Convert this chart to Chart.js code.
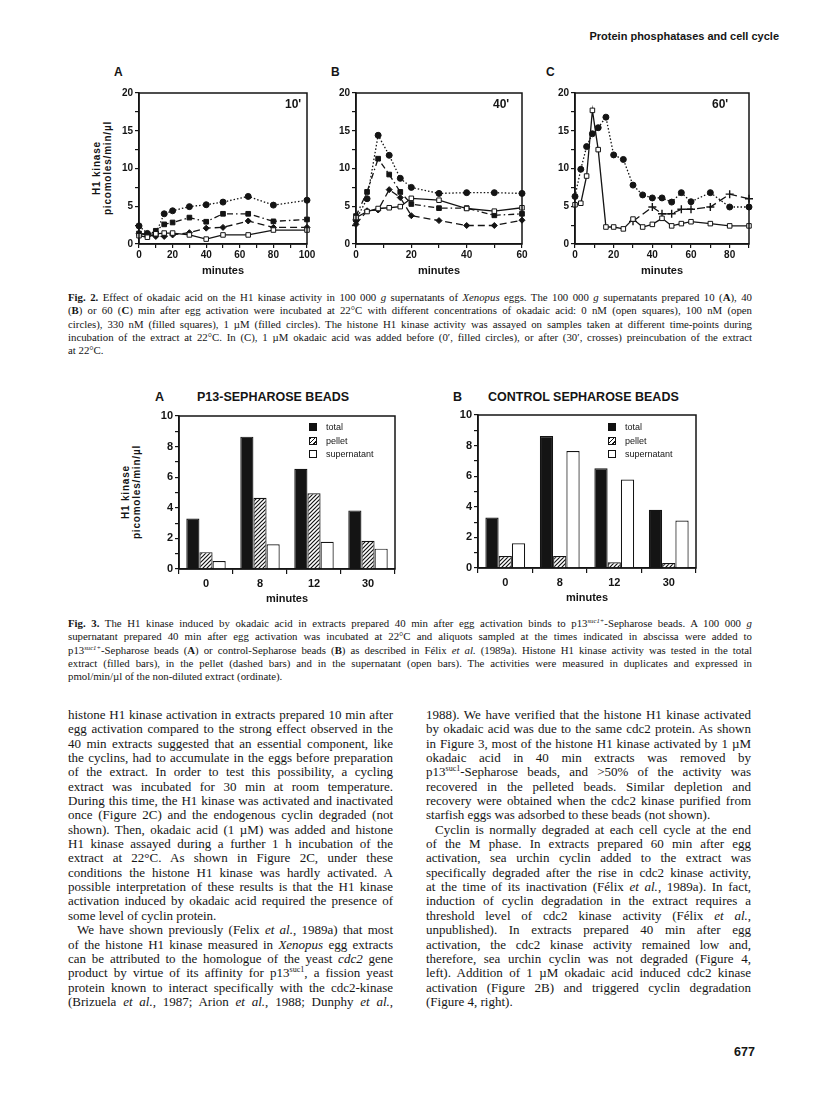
<!DOCTYPE html>
<html>
<head>
<meta charset="utf-8">
<script src="https://cdn.jsdelivr.net/npm/chart.js@4.4.1/dist/chart.umd.min.js"></script>
<style>
  html, body { margin: 0; padding: 0; background: #fff; }
  #page { position: relative; width: 816px; height: 1093px; overflow: hidden; color: #151515;
    font-family: "Liberation Serif", "Times New Roman", serif; }
  .sans { position: absolute; font-family: "Liberation Sans", Arial, sans-serif; font-weight: bold; white-space: nowrap; }
  canvas { position: absolute; }
  .cap { position: absolute; left: 68px; width: 684px; font-size: 10.8px; line-height: 13.3px; }
  .col { position: absolute; top: 708px; width: 325px; font-size: 13px; line-height: 14.35px; }
  .ln { text-align: justify; text-align-last: justify; white-space: nowrap; }
  .ln.end { text-align-last: left; }
  .ind { text-indent: 9px; }
  .rot { position: absolute; transform: rotate(-90deg); text-align: center; white-space: nowrap;
    font-family: "Liberation Sans", Arial, sans-serif; font-weight: bold; font-size: 10px; line-height: 11px; letter-spacing: 0.8px; }
  sup { font-size: 0.62em; line-height: 0; vertical-align: 0.62em; }
  .leg { position: absolute; font-family: "Liberation Sans", Arial, sans-serif; font-size: 9px; line-height: 13.5px; }
  .leg span.b { display: inline-block; width: 8px; height: 8px; border: 1px solid #111; box-sizing: border-box;
    vertical-align: -1px; margin-right: 9px; }
</style>
</head>
<body>
<div id="page">
  <div class="sans" style="right:37px; top:30px; font-size:11px;">Protein phosphatases and cell cycle</div>

  <!-- Fig. 2 -->
  <div class="sans" style="left:114px; top:65px; font-size:12px;">A</div>
  <div class="sans" style="left:331px; top:65px; font-size:12px;">B</div>
  <div class="sans" style="left:546px; top:65px; font-size:12px;">C</div>
  <div class="rot" style="left:42px; top:157px; width:120px; height:22px;">H1 kinase<br>picomoles/min/µl</div>
  <canvas id="f2a" width="205" height="193" style="left:112px; top:85px;"></canvas>
  <canvas id="f2b" width="203" height="193" style="left:329px; top:85px;"></canvas>
  <canvas id="f2c" width="211" height="193" style="left:548px; top:85px;"></canvas>
  <div class="sans" style="left:285px; top:97px; font-size:12px;">10'</div>
  <div class="sans" style="left:493px; top:97px; font-size:12px;">40'</div>
  <div class="sans" style="left:712px; top:97px; font-size:12px;">60'</div>

  <div class="cap" style="top:291px;">
    <div class="ln"><b>Fig. 2.</b> Effect of okadaic acid on the H1 kinase activity in 100 000 <i>g</i> supernatants of <i>Xenopus</i> eggs. The 100 000 <i>g</i> supernatants prepared 10 (<b>A</b>), 40</div>
    <div class="ln">(<b>B</b>) or 60 (<b>C</b>) min after egg activation were incubated at 22°C with different concentrations of okadaic acid: 0 nM (open squares), 100 nM (open</div>
    <div class="ln">circles), 330 nM (filled squares), 1 µM (filled circles). The histone H1 kinase activity was assayed on samples taken at different time-points during</div>
    <div class="ln">incubation of the extract at 22°C. In (C), 1 µM okadaic acid was added before (0′, filled circles), or after (30′, crosses) preincubation of the extract</div>
    <div class="ln end">at 22°C.</div>
  </div>

  <!-- Fig. 3 -->
  <div class="sans" style="left:155px; top:390px; font-size:12.5px;">A</div>
  <div class="sans" style="left:197px; top:390px; font-size:12.5px;">P13-SEPHAROSE BEADS</div>
  <div class="sans" style="left:453px; top:390px; font-size:12.5px;">B</div>
  <div class="sans" style="left:488px; top:390px; font-size:12.5px;">CONTROL SEPHAROSE BEADS</div>
  <div class="rot" style="left:71px; top:481px; width:120px; height:22px;">H1 kinase<br>picomoles/min/µl</div>
  <canvas id="f3a" width="252" height="201" style="left:150px; top:405px;"></canvas>
  <canvas id="f3b" width="254" height="201" style="left:449px; top:404px;"></canvas>
  <div class="leg" style="left:309px; top:421px;">
    <div><span class="b" style="background:#111;"></span>total</div>
    <div><span class="b" style="background:repeating-linear-gradient(135deg,#111 0 1.2px,#fff 1.2px 3px);"></span>pellet</div>
    <div><span class="b" style="background:#fff;"></span>supernatant</div>
  </div>
  <div class="leg" style="left:608px; top:421px;">
    <div><span class="b" style="background:#111;"></span>total</div>
    <div><span class="b" style="background:repeating-linear-gradient(135deg,#111 0 1.2px,#fff 1.2px 3px);"></span>pellet</div>
    <div><span class="b" style="background:#fff;"></span>supernatant</div>
  </div>

  <div class="cap" style="top:617px;">
    <div class="ln"><b>Fig. 3.</b> The H1 kinase induced by okadaic acid in extracts prepared 40 min after egg activation binds to p13<sup><i>suc1+</i></sup>-Sepharose beads. A 100 000 <i>g</i></div>
    <div class="ln">supernatant prepared 40 min after egg activation was incubated at 22°C and aliquots sampled at the times indicated in abscissa were added to</div>
    <div class="ln">p13<sup><i>suc1+</i></sup>-Sepharose beads (<b>A</b>) or control-Sepharose beads (<b>B</b>) as described in Félix <i>et al.</i> (1989a). Histone H1 kinase activity was tested in the total</div>
    <div class="ln">extract (filled bars), in the pellet (dashed bars) and in the supernatant (open bars). The activities were measured in duplicates and expressed in</div>
    <div class="ln end">pmol/min/µl of the non-diluted extract (ordinate).</div>
  </div>

  <!-- body text -->
  <div class="col" style="left:68px;">
    <div class="ln">histone H1 kinase activation in extracts prepared 10 min after</div>
    <div class="ln">egg activation compared to the strong effect observed in the</div>
    <div class="ln">40 min extracts suggested that an essential component, like</div>
    <div class="ln">the cyclins, had to accumulate in the eggs before preparation</div>
    <div class="ln">of the extract. In order to test this possibility, a cycling</div>
    <div class="ln">extract was incubated for 30 min at room temperature.</div>
    <div class="ln">During this time, the H1 kinase was activated and inactivated</div>
    <div class="ln">once (Figure 2C) and the endogenous cyclin degraded (not</div>
    <div class="ln">shown). Then, okadaic acid (1 µM) was added and histone</div>
    <div class="ln">H1 kinase assayed during a further 1 h incubation of the</div>
    <div class="ln">extract at 22°C. As shown in Figure 2C, under these</div>
    <div class="ln">conditions the histone H1 kinase was hardly activated. A</div>
    <div class="ln">possible interpretation of these results is that the H1 kinase</div>
    <div class="ln">activation induced by okadaic acid required the presence of</div>
    <div class="ln end">some level of cyclin protein.</div>
    <div class="ln ind">We have shown previously (Felix <i>et al.</i>, 1989a) that most</div>
    <div class="ln">of the histone H1 kinase measured in <i>Xenopus</i> egg extracts</div>
    <div class="ln">can be attributed to the homologue of the yeast <i>cdc2</i> gene</div>
    <div class="ln">product by virtue of its affinity for p13<sup>suc1</sup>, a fission yeast</div>
    <div class="ln">protein known to interact specifically with the cdc2-kinase</div>
    <div class="ln">(Brizuela <i>et al.</i>, 1987; Arion <i>et al.</i>, 1988; Dunphy <i>et al.</i>,</div>
  </div>
  <div class="col" style="left:426px;">
    <div class="ln">1988). We have verified that the histone H1 kinase activated</div>
    <div class="ln">by okadaic acid was due to the same cdc2 protein. As shown</div>
    <div class="ln">in Figure 3, most of the histone H1 kinase activated by 1 µM</div>
    <div class="ln">okadaic acid in 40 min extracts was removed by</div>
    <div class="ln">p13<sup>suc1</sup>-Sepharose beads, and &gt;50% of the activity was</div>
    <div class="ln">recovered in the pelleted beads. Similar depletion and</div>
    <div class="ln">recovery were obtained when the cdc2 kinase purified from</div>
    <div class="ln end">starfish eggs was adsorbed to these beads (not shown).</div>
    <div class="ln ind">Cyclin is normally degraded at each cell cycle at the end</div>
    <div class="ln">of the M phase. In extracts prepared 60 min after egg</div>
    <div class="ln">activation, sea urchin cyclin added to the extract was</div>
    <div class="ln">specifically degraded after the rise in cdc2 kinase activity,</div>
    <div class="ln">at the time of its inactivation (Félix <i>et al.</i>, 1989a). In fact,</div>
    <div class="ln">induction of cyclin degradation in the extract requires a</div>
    <div class="ln">threshold level of cdc2 kinase activity (Félix <i>et al.</i>,</div>
    <div class="ln">unpublished). In extracts prepared 40 min after egg</div>
    <div class="ln">activation, the cdc2 kinase activity remained low and,</div>
    <div class="ln">therefore, sea urchin cyclin was not degraded (Figure 4,</div>
    <div class="ln">left). Addition of 1 µM okadaic acid induced cdc2 kinase</div>
    <div class="ln">activation (Figure 2B) and triggered cyclin degradation</div>
    <div class="ln end">(Figure 4, right).</div>
  </div>

  <div class="sans" style="left:734px; top:1045px; font-size:12.5px;">677</div>
</div>

<script>
// Fig. 2: H1 kinase (pmol/min/µl) vs incubation time; okadaic acid 0 / 100 / 330 nM / 1 µM.
// A: 10 min extract
const A_TIME = [0, 5, 10, 15, 20, 30, 40, 50, 65, 80, 100];
const A_0NM = [1.1, 0.9, 1.35, 1.45, 1.45, 1.2, 0.65, 1.2, 1.2, 1.85, 1.85];
const A_100NM = [1.35, 1.35, 1.0, 1.0, 1.2, 1.5, 2.1, 2.2, 3.05, 2.2, 2.2];
const A_330NM = [1.4, 1.2, 1.75, 2.6, 2.85, 3.5, 2.95, 4.0, 4.0, 3.0, 3.25];
const A_1UM = [2.4, 1.4, 1.4, 4.0, 4.4, 4.95, 5.2, 5.55, 6.3, 5.15, 5.8];
// B: 40 min extract
const B_TIME = [0, 4, 8, 12, 16, 20, 30, 40, 50, 60];
const B_0NM = [3.5, 4.3, 4.7, 4.8, 4.95, 6.05, 5.8, 4.7, 4.35, 4.8];
const B_100NM = [2.6, 4.4, 4.5, 7.2, 6.15, 3.75, 3.1, 2.45, 2.45, 3.15];
const B_330NM = [3.7, 6.9, 11.3, 9.2, 6.9, 5.3, 4.75, 4.75, 3.8, 4.0];
const B_1UM = [3.2, 6.0, 14.4, 11.75, 8.7, 7.5, 6.7, 6.8, 6.8, 6.7];
// C: 60 min extract; 1 µM added at 0' (circles) or after 30' (crosses)
const C_TIME = [0, 3, 6, 9, 12, 16, 20, 25, 30, 35, 40, 45, 50, 55, 60, 70, 80, 90];
const C_CTRL = [5.2, 5.4, 9.0, 17.7, 12.5, 2.25, 2.25, 2.0, 3.3, 2.25, 2.6, 3.4, 2.4, 2.7, 2.95, 2.7, 2.4, 2.4];
const C_OKA0 = [6.3, 9.9, 12.9, 14.6, 15.4, 16.8, 11.8, 11.2, 7.8, 6.5, 6.1, 6.1, 5.55, 6.8, 5.6, 6.8, 4.9, 4.9];
const C_TIME30 = [30, 40, 45, 50, 55, 60, 70, 80, 90];
const C_OKA30 = [3.0, 4.9, 4.0, 4.0, 4.6, 4.6, 4.9, 6.6, 6.0];

// Fig. 3: bead binding, sampled at these minutes
const BAR_MIN = ['0', '8', '12', '30'];
const P13_TOTAL = [3.3, 8.65, 6.55, 3.83];
const P13_PELLET = [1.1, 4.65, 4.95, 1.85];
const P13_SUP = [0.52, 1.62, 1.78, 1.33];
const CTRL_TOTAL = [3.3, 8.63, 6.52, 3.8];
const CTRL_PELLET = [0.78, 0.78, 0.38, 0.33];
const CTRL_SUP = [1.62, 7.65, 5.78, 3.1];

const INK = '#141414';
Chart.defaults.font.family = '"Liberation Sans", Arial, sans-serif';
Chart.defaults.color = INK;

// frame the whole plot area like the original figures
const boxPlugin = {
  id: 'box',
  afterDraw(c) {
    const a = c.chartArea, g = c.ctx;
    g.save();
    g.strokeStyle = INK; g.lineWidth = 1.5;
    g.strokeRect(a.left, a.top, a.right - a.left, a.bottom - a.top);
    g.restore();
  },
};

function pts(t, v) { return t.map((x, i) => ({ x, y: v[i] })); }

function series(t, v, kind) {
  const base = { data: pts(t, v), borderColor: INK, borderWidth: 1.3, tension: 0, clip: false,
    pointBorderColor: INK, pointBorderWidth: 1, pointRadius: 3 };
  if (kind === 'open') return { ...base, pointStyle: 'rect', pointBackgroundColor: '#fff', pointRadius: 3.2 };
  if (kind === 'diam') return { ...base, borderDash: [7, 4], pointStyle: 'rectRot', pointBackgroundColor: INK, pointRadius: 3 };
  if (kind === 'sq') return { ...base, borderDash: [6, 3, 1.5, 3], pointStyle: 'rect', pointBackgroundColor: INK, pointRadius: 3.3 };
  if (kind === 'cross') return { ...base, borderDash: [8, 4], pointStyle: 'cross', pointRadius: 4, pointBorderWidth: 1.4 };
  return { ...base, borderDash: [1.5, 2], pointStyle: 'circle', pointBackgroundColor: INK, pointRadius: 3 };
}

function axisBase() {
  return {
    grid: { drawOnChartArea: false, tickLength: 4, color: INK, lineWidth: 1.2 },
    border: { color: INK, width: 1.5 },
  };
}

function lineChart(id, datasets, xMax) {
  return new Chart(document.getElementById(id), {
    type: 'line',
    data: { datasets },
    options: {
      responsive: false, animation: false,
      layout: { padding: { top: 7, right: 10, left: 0, bottom: 0 } },
      plugins: { legend: { display: false }, tooltip: { enabled: false } },
      scales: {
        x: {
          ...axisBase(), type: 'linear', min: 0, max: xMax,
          ticks: { stepSize: 10, autoSkip: false, maxRotation: 0, padding: 1,
            font: { size: 10, weight: 'bold' }, callback: (v) => (v % 20 === 0 ? v : '') },
          title: { display: true, text: 'minutes', font: { size: 11, weight: 'bold' }, padding: { top: 0, bottom: 0 } },
          afterFit: (s) => { s.height = 34; },
        },
        y: {
          ...axisBase(), min: 0, max: 20,
          ticks: { stepSize: 2.5, autoSkip: false, padding: 2,
            font: { size: 10, weight: 'bold' }, callback: (v) => (v % 5 === 0 ? v : '') },
          afterFit: (s) => { s.width = 27; },
        },
      },
    },
    plugins: [boxPlugin],
  });
}

lineChart('f2a', [
  series(A_TIME, A_0NM, 'open'), series(A_TIME, A_100NM, 'diam'),
  series(A_TIME, A_330NM, 'sq'), series(A_TIME, A_1UM, 'dot'),
], 100);
lineChart('f2b', [
  series(B_TIME, B_0NM, 'open'), series(B_TIME, B_100NM, 'diam'),
  series(B_TIME, B_330NM, 'sq'), series(B_TIME, B_1UM, 'dot'),
], 60);
lineChart('f2c', [
  series(C_TIME, C_CTRL, 'open'), series(C_TIME, C_OKA0, 'dot'), series(C_TIME30, C_OKA30, 'cross'),
], 90);

function hatch() {
  const c = document.createElement('canvas');
  c.width = c.height = 4;
  const g = c.getContext('2d');
  g.fillStyle = '#fff'; g.fillRect(0, 0, 4, 4);
  g.strokeStyle = INK; g.lineWidth = 1.2;
  g.beginPath();
  g.moveTo(0, 4); g.lineTo(4, 0);
  g.moveTo(-1, 1); g.lineTo(1, -1);
  g.moveTo(3, 5); g.lineTo(5, 3);
  g.stroke();
  return g.createPattern(c, 'repeat');
}

function barChart(id, total, pellet, sup) {
  const bar = { borderColor: INK, borderWidth: 1.2, barPercentage: 1, categoryPercentage: 0.73 };
  return new Chart(document.getElementById(id), {
    type: 'bar',
    data: {
      labels: BAR_MIN,
      datasets: [
        { ...bar, data: total, backgroundColor: INK },
        { ...bar, data: pellet, backgroundColor: hatch() },
        { ...bar, data: sup, backgroundColor: '#fff' },
      ],
    },
    options: {
      responsive: false, animation: false,
      layout: { padding: { top: 11, right: 7, left: 0, bottom: 0 } },
      plugins: { legend: { display: false }, tooltip: { enabled: false } },
      scales: {
        x: {
          ...axisBase(), grid: { ...axisBase().grid, offset: true, tickLength: 5 },
          ticks: { padding: 3, font: { size: 11, weight: 'bold' } },
          title: { display: true, text: 'minutes', font: { size: 11, weight: 'bold' }, padding: { top: 0, bottom: 0 } },
          afterFit: (s) => { s.height = 37; },
        },
        y: {
          ...axisBase(), min: 0, max: 10,
          ticks: { stepSize: 1, autoSkip: false, padding: 2,
            font: { size: 11, weight: 'bold' }, callback: (v) => (v % 2 === 0 ? v : '') },
          afterFit: (s) => { s.width = 29; },
        },
      },
    },
    plugins: [boxPlugin],
  });
}

barChart('f3a', P13_TOTAL, P13_PELLET, P13_SUP);
barChart('f3b', CTRL_TOTAL, CTRL_PELLET, CTRL_SUP);
</script>
</body>
</html>
